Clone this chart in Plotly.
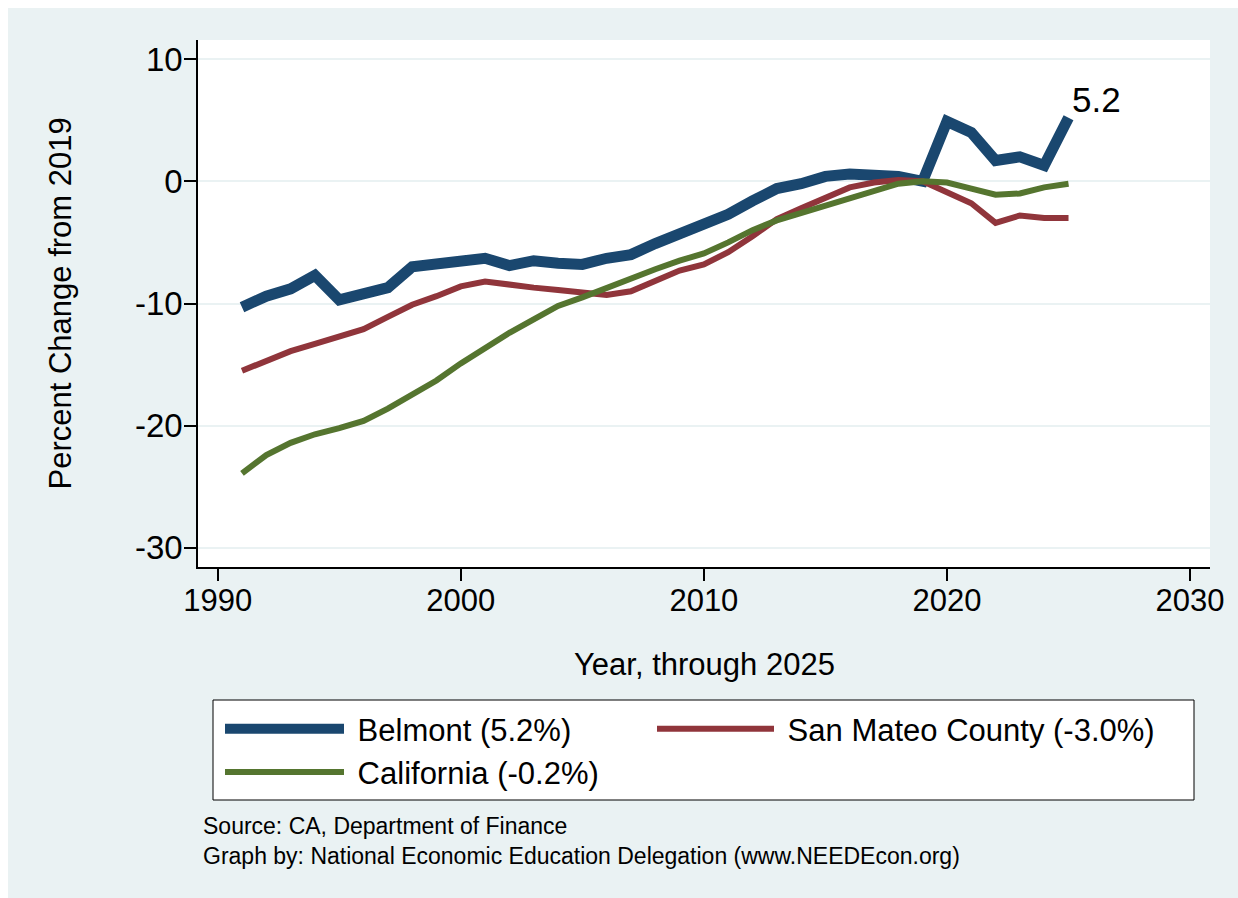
import plotly.graph_objects as go

# ---------------- data ----------------
years = list(range(1991, 2026))

belmont = [-10.3, -9.4, -8.8, -7.7, -9.7, -9.3, -8.7, -7.0, -6.8, -6.6,
           -6.3, -6.9, -6.5, -6.7, -6.8, -6.3, -6.0, -5.1, -4.3, -3.7,
           -2.7, -1.6, -0.6, -0.2, 0.4, 0.6, 0.6, 0.4, 0.0, 4.9,
           4.0, 1.7, 2.0, 1.3, 5.2]

san_mateo = [-15.5, -14.7, -13.9, -13.3, -12.7, -12.1, -11.1, -10.1, -9.4, -8.6,
             -8.2, -8.5, -8.7, -8.9, -9.1, -9.3, -9.0, -8.1, -7.3, -6.8,
             -5.8, -4.5, -3.1, -2.2, -1.3, -0.5, -0.1, 0.1, 0.0, -0.9,
             -1.8, -3.4, -2.8, -3.0, -3.0]

california = [-23.9, -22.4, -21.4, -20.7, -20.2, -19.6, -18.6, -17.5, -16.3, -14.9,
              -13.6, -12.4, -11.3, -10.2, -9.5, -8.7, -8.0, -7.2, -6.5, -5.9,
              -5.0, -4.0, -3.2, -2.6, -2.0, -1.4, -0.7, -0.2, 0.0, -0.1,
              -0.6, -1.1, -1.0, -0.5, -0.2]

series_names = ["Belmont (5.2%)", "San Mateo County (-3.0%)", "California (-0.2%)"]
series_colors = ["#1a476f", "#90353b", "#55752f"]
series_widths = [11, 6, 6]
series_legends = ["legend", "legend2", "legend"]

x_ticks = [1990, 2000, 2010, 2020, 2030]
y_ticks = [-30, -20, -10, 0, 10]
y_tick_text = ["-30", "-20", "-10", "0", "10"]
last_label = "5.2"

# ---------------- layout geometry ----------------
# The page body keeps an 8px margin at top/left, so the figure starts at page (8, 8).
OFF = 8
W, H = 1238 - OFF, 898 - OFF
# plot area edges in page pixels
L, R, T, B = 198, 1210, 40, 567
PW, PH = R - L, B - T


def xp(px):
    return (px - L) / PW


def yp(py):
    return (B - py) / PH


FONT = "Liberation Sans, Arial, Helvetica, sans-serif"
BG = "#eaf2f3"
NB = "\u00a0"

fig = go.Figure()
for name, vals, col, lw, lg in zip(series_names, [belmont, san_mateo, california],
                                   series_colors, series_widths, series_legends):
    fig.add_trace(go.Scatter(x=years, y=vals, mode="lines", name=NB + name,
                             line=dict(color=col, width=lw), legend=lg,
                             hoverinfo="x+y+name"))

fig.add_annotation(x=years[-1], y=belmont[-1], xref="x", yref="y",
                   text=last_label, showarrow=False, xanchor="left",
                   yanchor="middle", xshift=1, yshift=18,
                   font=dict(size=35, color="black", family=FONT))

# axis titles
fig.add_annotation(x=xp(704), y=yp(664), xref="paper", yref="paper",
                   text="Year, through 2025", showarrow=False,
                   xanchor="center", yanchor="middle",
                   font=dict(size=31, color="black", family=FONT))
fig.add_annotation(x=xp(60), y=yp(303.5), xref="paper", yref="paper",
                   text="Percent Change from 2019", showarrow=False,
                   textangle=-90, xanchor="center", yanchor="middle",
                   font=dict(size=31, color="black", family=FONT))

# notes
fig.add_annotation(x=xp(201), y=yp(826), xref="paper", yref="paper",
                   text="Source: CA, Department of Finance", showarrow=False,
                   xanchor="left", yanchor="middle",
                   font=dict(size=23, color="black", family=FONT))
fig.add_annotation(x=xp(201), y=yp(856), xref="paper", yref="paper",
                   text="Graph by: National Economic Education Delegation (www.NEEDEcon.org)",
                   showarrow=False, xanchor="left", yanchor="middle",
                   font=dict(size=23, color="black", family=FONT))

# legend frame
fig.add_shape(type="rect", xref="paper", yref="paper", x0=xp(213), x1=xp(1194),
              y0=yp(700), y1=yp(800), fillcolor="white",
              line=dict(color="black", width=1), layer="below")

leg_common = dict(bgcolor="rgba(0,0,0,0)", borderwidth=0,
                  font=dict(size=31, family=FONT, color="black"),
                  traceorder="normal", xanchor="left", yanchor="top")

fig.update_layout(
    width=W, height=H,
    margin=dict(l=L - OFF, r=(W + OFF) - R, t=T - OFF, b=(H + OFF) - B, autoexpand=False),
    paper_bgcolor=BG, plot_bgcolor="white",
    font=dict(family=FONT, color="black"),
    showlegend=True,
    legend=dict(orientation="v", x=xp(220), y=yp(702), itemwidth=119, **leg_common),
    legend2=dict(orientation="v", x=xp(652), y=yp(702), itemwidth=117, **leg_common),
    xaxis=dict(range=[1989.19, 2030.82], tickvals=x_ticks, ticks="outside",
               ticklen=12, tickwidth=1.5, tickcolor="black", showline=True,
               linecolor="black", linewidth=1.5, showgrid=False, zeroline=False,
               tickfont=dict(size=31, family=FONT, color="black"),
               ticklabelstandoff=-7),
    yaxis=dict(range=[-31.56, 11.56], tickvals=y_ticks, ticktext=y_tick_text,
               ticks="outside",
               ticklen=12, tickwidth=1.5, tickcolor="black", showline=True,
               linecolor="black", linewidth=1.5, showgrid=True, gridcolor=BG,
               gridwidth=2, zeroline=False,
               tickfont=dict(size=33, family=FONT, color="black"),
               ticklabelstandoff=-5),
)

# keep the 8px page margin only at top/left so the page does not overflow
fig.write_html("out.html", post_script="document.body.style.margin='8px 0 0 8px';")
